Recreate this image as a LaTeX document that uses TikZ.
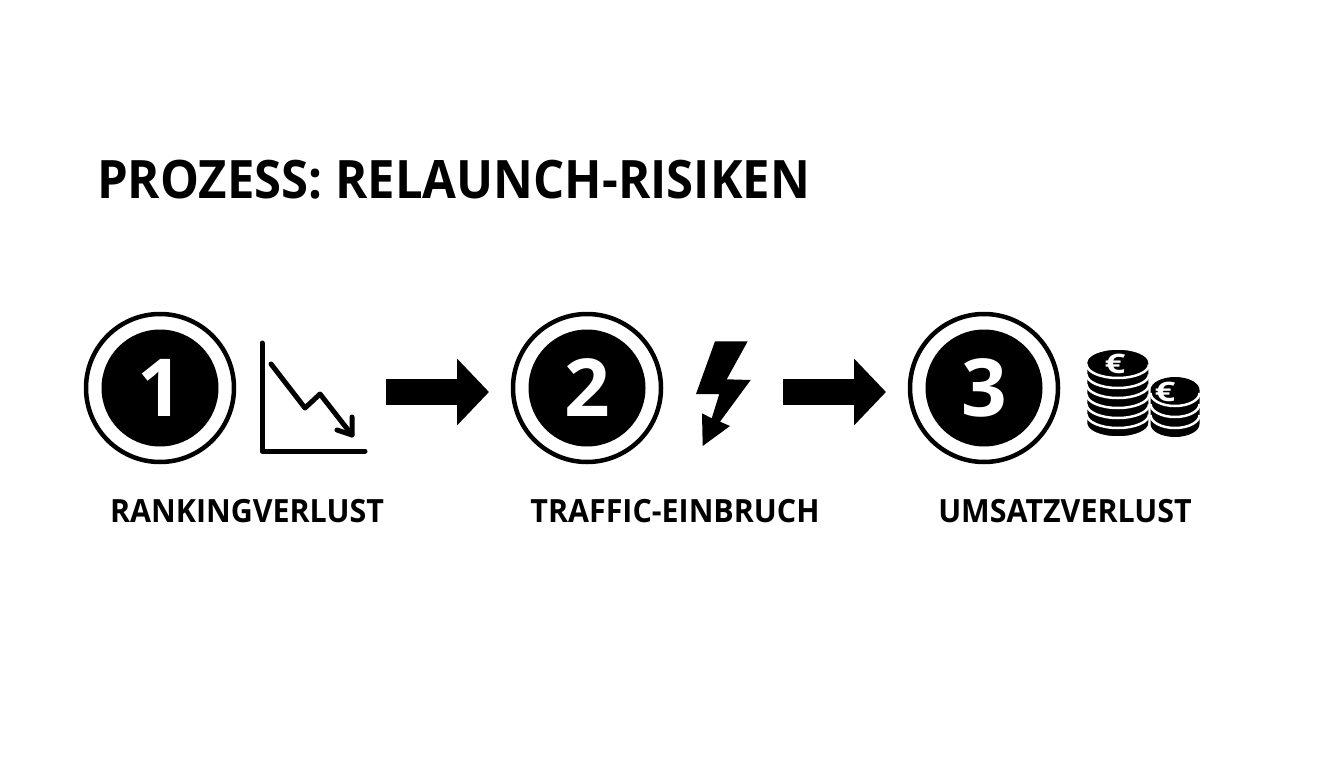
\documentclass[tikz,border=0pt]{standalone}
\usepackage{fontspec}
\setmainfont{Open Sans}
\newfontfamily\titlefont{Open Sans}[FakeStretch=0.925]
\newfontfamily\capfont{Open Sans}[FakeStretch=0.95]
\newfontfamily\eurofont{Open Sans}[FakeStretch=1.35]
\usetikzlibrary{arrows.meta}
\tikzset{
  ring/.style={circle,draw=black,line width=4.5pt,fill=white,minimum size=148pt,inner sep=0pt,outer sep=0pt},
  disc/.style={circle,fill=black,text=white,minimum size=117pt,inner sep=0pt,outer sep=0pt,font=\fontsize{80}{80}\selectfont\bfseries},
  caption/.style={inner sep=0pt,font=\capfont\fontsize{32}{32}\selectfont\bfseries},
  icon/.style={inner sep=0pt,outer sep=0pt,minimum width=106pt,minimum height=20pt},
  blockarrow/.style={line width=26pt,-{Triangle[length=32pt,width=65pt]}},
  chartline/.style={line width=5pt,line cap=round,line join=round},
  coinrim/.style={white,line width=2.5pt},
  euro/.style={inner sep=0pt,text=white,font=\eurofont\fontsize{27}{27}\selectfont\bfseries}
}
\begin{document}
\begin{tikzpicture}[x=1pt,y=-1pt]
\useasboundingbox [fill=white] (0,0) rectangle (1344,768);

\node [inner sep=0pt,anchor=base west,font=\titlefont\fontsize{53}{53}\selectfont\bfseries] (title) at (97,198) {PROZESS: RELAUNCH-RISIKEN};

\node [ring] (ringa) at (160,388) {};
\node [disc] (stepa) at (160,388) {1};
\node [ring] (ringb) at (587,388) {};
\node [disc] (stepb) at (587,388) {2};
\node [ring] (ringc) at (984,388) {};
\node [disc] (stepc) at (984,388) {3};

\node [caption,anchor=base] (capa) at (247,522) {RANKINGVERLUST};
\node [caption,anchor=base] (capb) at (675,522) {TRAFFIC-EINBRUCH};
\node [caption,anchor=base] (capc) at (1065,522) {UMSATZVERLUST};

% falling chart
\node [icon] (chart) at (313,388) {};
\draw [chartline] (262,343) -- (262,451) -- (365,451);
\draw [chartline] (271,364) -- (305,408) -- (320,394) -- (352,435);
\draw [chartline] (352,417) -- (352,435) -- (337,430);

% lightning
\node [icon,minimum width=55pt] (bolt) at (723,388) {};
\fill (715,341.3) -- (747.7,341.3) -- (726.7,379.3) -- (750.7,380) -- (720,421.7) -- (730,426)
  -- (702.7,446) -- (702,413.3) -- (711.7,418.3) -- (719.3,394) -- (696,394) -- cycle;

% coins
\fill (1199.5,390) arc (0:-180:24.5 and 13) -- (1150.5,424) arc (180:0:24.5 and 13) -- cycle;
\draw [coinrim] (1150.5,393) arc (180:0:24.5 and 13);
\draw [coinrim] (1150.5,404) arc (180:0:24.5 and 13);
\draw [coinrim] (1150.5,415) arc (180:0:24.5 and 13);
\fill [draw=white,line width=1.5pt] (1149,362.5) arc (0:-180:31.2 and 13.5) -- (1086.6,423.5) arc (180:0:31.2 and 13.5) -- cycle;
\draw [coinrim] (1086.6,364.5) arc (180:0:31.2 and 13.5);
\draw [coinrim] (1086.6,374.5) arc (180:0:31.2 and 13.5);
\draw [coinrim] (1086.6,384.5) arc (180:0:31.2 and 13.5);
\draw [coinrim] (1086.6,394.5) arc (180:0:31.2 and 13.5);
\draw [coinrim] (1086.6,404.5) arc (180:0:31.2 and 13.5);
\draw [coinrim] (1086.6,414.5) arc (180:0:31.2 and 13.5);
\node [euro] (euroa) at (1115,364) {€};
\node [euro] (eurob) at (1165,392) {€};
\node [icon,minimum width=112pt] (coins) at (1143,388) {};

\draw [blockarrow,shorten <=20pt,shorten >=24pt] ([yshift=-4pt]chart.east) -- ([yshift=-4pt]ringb.west);
\draw [blockarrow,shorten <=32.5pt,shorten >=24pt] ([yshift=-4pt]bolt.east) -- ([yshift=-4pt]ringc.west);

\end{tikzpicture}
\end{document}
